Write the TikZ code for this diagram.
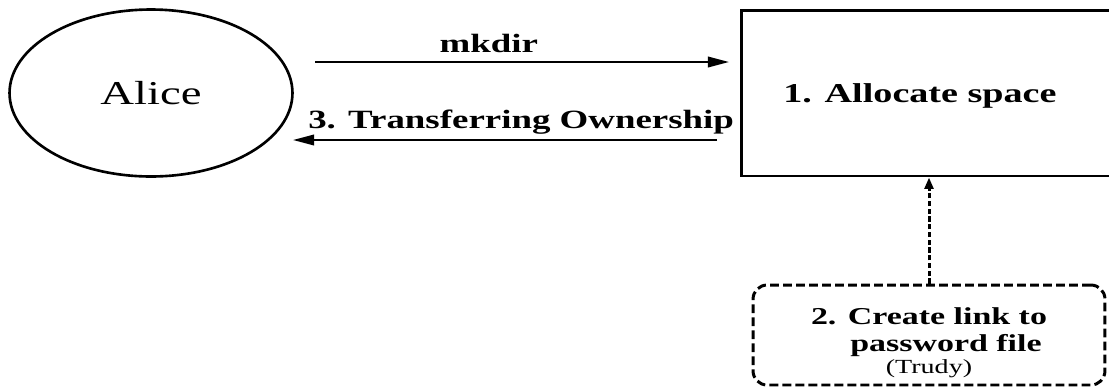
\documentclass[tikz,border=0pt]{standalone}
\usepackage{fontspec}
\setmainfont{Liberation Serif}[FakeStretch=1.4]
\usepackage{tikz}
\usetikzlibrary{arrows.meta,positioning,shapes.geometric}

\begin{document}
\begin{tikzpicture}[
  x=0.02cm, y=-0.02cm,
  user/.style ={draw,ellipse,line width=1.5pt,minimum width=5.66cm,
                minimum height=3.34cm,font=\fontsize{19}{22}\selectfont},
  srv/.style  ={draw,rectangle,line width=1.7pt,minimum width=7.8cm,
                minimum height=3.32cm},
  atk/.style  ={draw,rectangle,rounded corners=8pt,line width=1.7pt,
                dash pattern=on 5pt off 2.4pt,minimum width=7.04cm,
                minimum height=2cm},
  arr/.style  ={-{Triangle[length=12pt,width=6pt]},line width=1.1pt},
  darr/.style ={-{Triangle[length=6.5pt,width=5pt]},line width=1.7pt,
                dash pattern=on 3pt off 1.4pt},
  lbl/.style  ={font=\bfseries\fontsize{15}{18}\selectfont,inner sep=1pt},
  note/.style ={align=center,inner sep=1pt,
                font=\bfseries\fontsize{13.8}{15.5}\selectfont}
]
\useasboundingbox (0,0) rectangle (1109,387);

%% User on the left, server box running off the right edge
\node[user] (alice) at (151,93) {Alice};
\node[srv]  (alloc) at (936,93) {};
\node[lbl,font=\bfseries\fontsize{15.5}{18}\selectfont] (space) at (920,96) {1. Allocate space};

%% Attacker box below the server
\node[atk]  (trudy) at (929,335) {};
\node[note] (link)  at (929,343)
  {2. Create link to\\ \hspace*{1.4em}password file\\[-3pt]
   {\normalfont\fontsize{11.4}{13}\selectfont (Trudy)}};

%% Request and reply between Alice and the server
\coordinate (mk0) at (315,62);
\coordinate (mk1) at (729,62);
\coordinate (tr0) at (717,140);
\coordinate (tr1) at (293,140);
\draw[arr] (mk0) -- node[lbl,above=4pt,pos=0.42]{mkdir} (mk1);
\draw[arr] (tr0) -- node[lbl,above=1.5pt,pos=0.462]{3. Transferring Ownership} (tr1);

%% Race from the attacker
\draw[darr] (trudy.north) -- (trudy.north |- alloc.south);
\end{tikzpicture}
\end{document}
